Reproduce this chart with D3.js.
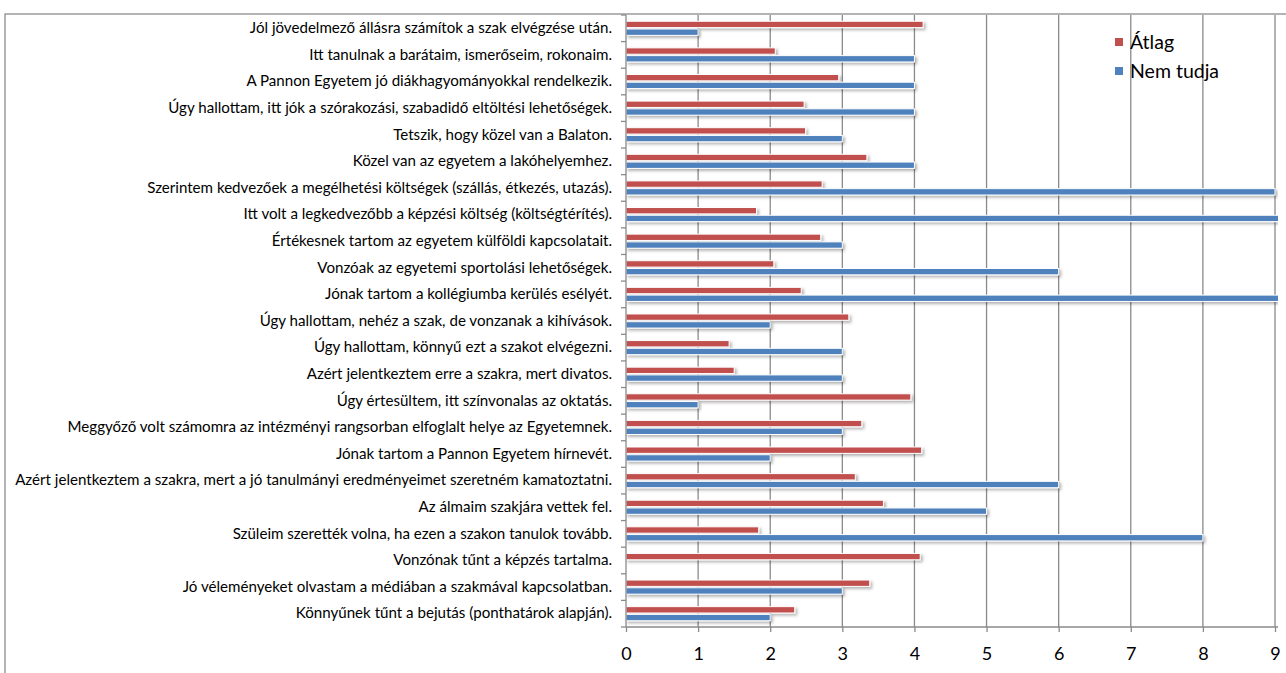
<!DOCTYPE html>
<html><head><meta charset="utf-8">
<script src="https://cdn.jsdelivr.net/npm/d3@7"></script>
<style>html,body{margin:0;padding:0;background:#fff;}svg{display:block;}</style>
</head><body>
<svg id="c" width="1286" height="673"></svg>
<script>
const categories = [
"Jól jövedelmező állásra számítok a szak elvégzése után.",
"Itt tanulnak a barátaim, ismerőseim, rokonaim.",
"A Pannon Egyetem jó diákhagyományokkal rendelkezik.",
"Úgy hallottam, itt jók a szórakozási, szabadidő eltöltési lehetőségek.",
"Tetszik, hogy közel van a Balaton.",
"Közel van az egyetem a lakóhelyemhez.",
"Szerintem kedvezőek a megélhetési költségek (szállás, étkezés, utazás).",
"Itt volt a legkedvezőbb a képzési költség (költségtérítés).",
"Értékesnek tartom az egyetem külföldi kapcsolatait.",
"Vonzóak az egyetemi sportolási lehetőségek.",
"Jónak tartom a kollégiumba kerülés esélyét.",
"Úgy hallottam, nehéz a szak, de vonzanak a kihívások.",
"Úgy hallottam, könnyű ezt a szakot elvégezni.",
"Azért jelentkeztem erre a szakra, mert divatos.",
"Úgy értesültem, itt színvonalas az oktatás.",
"Meggyőző volt számomra az intézményi rangsorban elfoglalt helye az Egyetemnek.",
"Jónak tartom a Pannon Egyetem hírnevét.",
"Azért jelentkeztem a szakra, mert a jó tanulmányi eredményeimet szeretném kamatoztatni.",
"Az álmaim szakjára vettek fel.",
"Szüleim szerették volna, ha ezen a szakon tanulok tovább.",
"Vonzónak tűnt a képzés tartalma.",
"Jó véleményeket olvastam a médiában a szakmával kapcsolatban.",
"Könnyűnek tűnt a bejutás (ponthatárok alapján)."
];
const atlag = [4.12,2.07,2.95,2.47,2.49,3.34,2.72,1.81,2.70,2.05,2.43,3.09,1.43,1.50,3.95,3.27,4.10,3.18,3.57,1.84,4.08,3.38,2.34];
const nemTudja = [1,4,4,4,3,4,9,10,3,6,10,2,3,3,1,3,2,6,5,8,0,3,2];
const seriesNames = ["Átlag","Nem tudja"];
const colors = ["#C0504D","#4F81BD"];
const xTicks = [0,1,2,3,4,5,6,7,8,9];

const svg = d3.select("#c");
const FONT = "Lato, 'Open Sans', sans-serif";
const L = 626, R = 1275, T = 15, B = 627;

const defs = svg.append("defs");
const f = defs.append("filter").attr("id","sh").attr("x","-5%").attr("y","-50%").attr("width","110%").attr("height","250%");
f.append("feDropShadow").attr("dx",2).attr("dy",2).attr("stdDeviation",1.4).attr("flood-color","#000").attr("flood-opacity",0.3);
defs.append("clipPath").attr("id","clip").append("rect").attr("x",L-2).attr("y",T-5).attr("width",1278-L+2).attr("height",B-T+10);

// frame
svg.append("rect").attr("x",5).attr("y",14).attr("width",1300).attr("height",700)
  .attr("fill","none").attr("stroke","#8c8c8c").attr("stroke-width",1.3);

const x = d3.scaleLinear().domain([0,9]).range([L,R]);
const y = d3.scaleBand().domain(categories).range([T,B]).paddingInner(0.47).paddingOuter(0.235);
const ys = d3.scaleBand().domain(seriesNames).range([0,y.bandwidth()]).paddingInner(0.18);

// gridlines
svg.append("g").selectAll("line").data(xTicks.slice(1)).join("line")
  .attr("x1",d=>x(d)).attr("x2",d=>x(d)).attr("y1",T).attr("y2",B)
  .attr("stroke","#8a8a8a").attr("stroke-width",1.3);

// bars
const data = categories.map((c,i)=>({c, vals:[atlag[i], nemTudja[i]]}));
const g = svg.append("g").attr("clip-path","url(#clip)");
data.forEach(d=>{
  d.vals.forEach((v,k)=>{
    if(v<=0) return;
    g.append("rect")
      .attr("x",x(0)).attr("y",y(d.c)+ys(seriesNames[k]))
      .attr("width",x(v)-x(0)).attr("height",ys.bandwidth())
      .attr("fill",colors[k]).attr("stroke","#fff").attr("stroke-width",1)
      .attr("filter","url(#sh)");
  });
});

// x axis
const xa = svg.append("g").attr("transform",`translate(0,${B})`)
  .call(d3.axisBottom(x).tickValues(xTicks).tickSize(5).tickPadding(15).tickFormat(d3.format("d")));
xa.select(".domain").attr("stroke","#8a8a8a").attr("stroke-width",1.3).attr("d",`M${L},0H1278`);
xa.selectAll(".tick line").attr("stroke","#8a8a8a").attr("stroke-width",1.3);
xa.selectAll("text").attr("font-family",FONT).attr("font-size",18).attr("fill","#000");

// y axis line and ticks at boundaries
svg.append("line").attr("x1",L).attr("x2",L).attr("y1",T).attr("y2",B).attr("stroke","#8a8a8a").attr("stroke-width",1.3);
const bounds = d3.range(categories.length+1).map(i=>T+i*y.step());
svg.append("g").selectAll("line").data(bounds).join("line")
  .attr("x1",L-5).attr("x2",L).attr("y1",d=>d).attr("y2",d=>d)
  .attr("stroke","#8a8a8a").attr("stroke-width",1.3);

// category labels
const lab = svg.append("g").selectAll("text").data(categories).join("text")
  .attr("x",612).attr("y",d=>y(d)+y.bandwidth()/2-0.5).attr("dy","0.35em")
  .attr("text-anchor","end").attr("font-family",FONT).attr("font-size",13).attr("fill","#000")
  .text(d=>d);
let maxW = 0; lab.each(function(){maxW=Math.max(maxW,this.getComputedTextLength());});
const fs = 13*597/maxW;
lab.attr("font-size",fs);

// legend
const lg = svg.append("g");
seriesNames.forEach((s,k)=>{
  const yy = 42 + k*29;
  lg.append("rect").attr("x",1115).attr("y",yy-4).attr("width",8).attr("height",8).attr("fill",colors[k]);
  lg.append("text").attr("x",1130).attr("y",yy).attr("dy","0.35em").attr("font-family",FONT)
    .attr("font-size",19.5).attr("fill","#000").text(s);
});
</script>
</body></html>
